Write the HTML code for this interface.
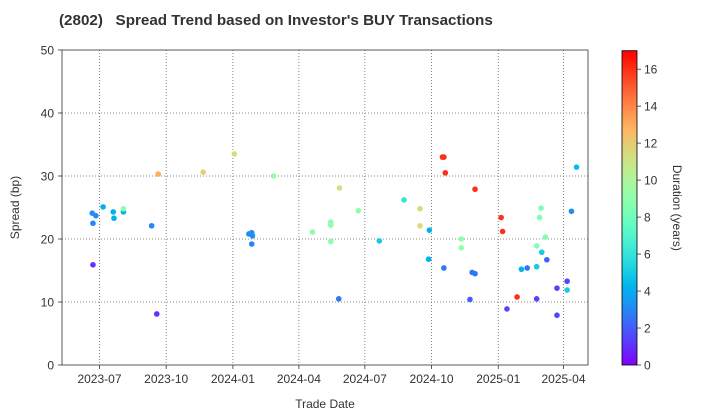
<!DOCTYPE html>
<html><head><meta charset="utf-8">
<style>
html,body{margin:0;padding:0;background:#fff;}
svg{display:block;font-family:"Liberation Sans",Arial,sans-serif;}
</style></head>
<body>
<svg id="chart" width="720" height="420" viewBox="0 0 720 420">
<defs>
<linearGradient id="cbgrad" x1="0" y1="1" x2="0" y2="0"></linearGradient>
</defs>
<text x="59" y="25" font-size="15.2" font-weight="bold" fill="#333" xml:space="preserve">(2802)   Spread Trend based on Investor's BUY Transactions</text>
<g id="grid"></g>
<g id="axes"></g>
<g id="points"></g>
<g id="colorbar"></g>
</svg>
<script>
// days since 2023-07-01
const tradeDays = [-10,-5,-9,5,19,20,33,33,-9,72,81,79,143,186,206,210,211,210,240,294,319,319,319,331,357,330,386,420,442,442,455,454,475,473,477,475,499,499,518,514,518,511,554,556,562,576,582,590,603,603,603,607,609,615,610,617,631,645,645,631,651,658];
const spreads = [24.1,23.7,22.5,25.1,24.3,23.3,24.3,24.8,15.9,22.1,30.3,8.1,30.6,33.5,20.8,21.0,20.5,19.2,30.0,21.1,22.7,22.2,19.6,28.1,24.5,10.5,19.7,26.2,24.8,22.1,21.4,16.8,33.0,33.0,30.5,15.4,20.0,18.6,27.9,14.7,14.5,10.4,23.4,21.2,8.9,10.8,15.2,15.4,15.6,10.5,18.9,23.4,24.9,20.3,17.9,16.7,12.2,13.3,11.9,7.9,24.4,31.4];
const durations = [3.2,3.2,3,4.2,4.2,4.2,4.2,9,1,3,13,1,12,11.5,3.2,3.2,3.2,3,9,9,9,9,9,11,9,2.6,5,6,11.5,11.5,4.2,4.2,16,16,16,2.6,9,9,16,2.6,2.6,2,16,16,1.5,16,4.2,2.6,5,1.5,8.5,8.5,8.5,8.5,5,2.2,1.5,1.5,5,1.5,3.2,4.5];
const xTickDays = [0,92,184,275,366,458,550,640];
const xTickLabels = ["2023-07","2023-10","2024-01","2024-04","2024-07","2024-10","2025-01","2025-04"];
const yTicks = [0,10,20,30,40,50];
const cbTicks = [0,2,4,6,8,10,12,14,16];

const NS="http://www.w3.org/2000/svg";
const L=62,R=588,T=50,B=365;
const dMin=-51.7,dMax=673.8,yMax=50,cMax=17;
const xs=d=>L+(d-dMin)/(dMax-dMin)*(R-L);
const ys=v=>B-v/yMax*(B-T);
function rainbow(t){t=Math.max(0,Math.min(1,t));
 const r=Math.min(1,Math.abs(2*t-0.5)),g=Math.sin(Math.PI*t),b=Math.cos(Math.PI*t/2);
 return `rgb(${Math.round(r*255)},${Math.round(g*255)},${Math.round(b*255)})`;}
function mk(tag,attrs,parent,txt){const e=document.createElementNS(NS,tag);for(const k in attrs)e.setAttribute(k,attrs[k]);if(txt!==undefined)e.textContent=txt;parent.appendChild(e);return e;}
const grid=document.getElementById('grid'),axes=document.getElementById('axes'),pts=document.getElementById('points'),cb=document.getElementById('colorbar');

xTickDays.forEach((d,i)=>{const x=xs(d);
 const gl=mk('line',{x1:x,x2:x,y1:T,y2:B,stroke:'#666','stroke-width':0.8,'stroke-dasharray':'1,2'},grid);
 
 
 mk('line',{x1:x,x2:x,y1:B,y2:B+4,stroke:'#333','stroke-width':0.8},axes);
 const t=mk('text',{x:x,y:B+18,'font-size':12,'text-anchor':'middle',fill:'#333'},axes,xTickLabels[i]);
 
 
});
yTicks.forEach(v=>{const y=ys(v);
 if(v>0&&v<50){const gl=mk('line',{x1:L,x2:R,y1:y,y2:y,stroke:'#666','stroke-width':0.8,'stroke-dasharray':'1,2'},grid);
 
 }
 mk('line',{x1:L-4,x2:L,y1:y,y2:y,stroke:'#333','stroke-width':0.8},axes);
 const t=mk('text',{x:L-8,y:y+4.5,'font-size':12,'text-anchor':'end',fill:'#333'},axes,String(v));
 
 
});
const frame=mk('rect',{x:L,y:T,width:R-L,height:B-T,fill:'none',stroke:'#333','stroke-width':0.8},axes);


const yl=mk('text',{x:0,y:0,'font-size':12,'text-anchor':'middle',fill:'#333',transform:`translate(19,${(T+B)/2}) rotate(-90)`},axes,'Spread (bp)');


const xl=mk('text',{x:(L+R)/2,y:408,'font-size':12,'text-anchor':'middle',fill:'#333'},axes,'Trade Date');



tradeDays.forEach((d,i)=>{
 const c=mk('circle',{cx:xs(d),cy:ys(spreads[i]),r:2.8,fill:rainbow(durations[i]/cMax)},pts);
 
 
});

// colorbar
const grad=document.getElementById('cbgrad');
for(let i=0;i<=20;i++){mk('stop',{offset:(i/20),'stop-color':rainbow(i/20)},grad);}
const CL=622,CR=637,CT=50.7,CB=365;
const bar=mk('rect',{x:CL,y:CT,width:CR-CL,height:CB-CT,fill:'url(#cbgrad)',stroke:'#000','stroke-width':0.8},cb);


cbTicks.forEach(v=>{const y=CB-v/cMax*(CB-CT);
 mk('line',{x1:CR,x2:CR+4,y1:y,y2:y,stroke:'#333','stroke-width':0.8},cb);
 const t=mk('text',{x:CR+7,y:y+4.5,'font-size':12,fill:'#333'},cb,String(v));
 
 
});
const cl=mk('text',{x:0,y:0,'font-size':12,'text-anchor':'middle',fill:'#333',transform:`translate(673,${(CT+CB)/2}) rotate(90)`},cb,'Duration (years)');


</script>
</body></html>
